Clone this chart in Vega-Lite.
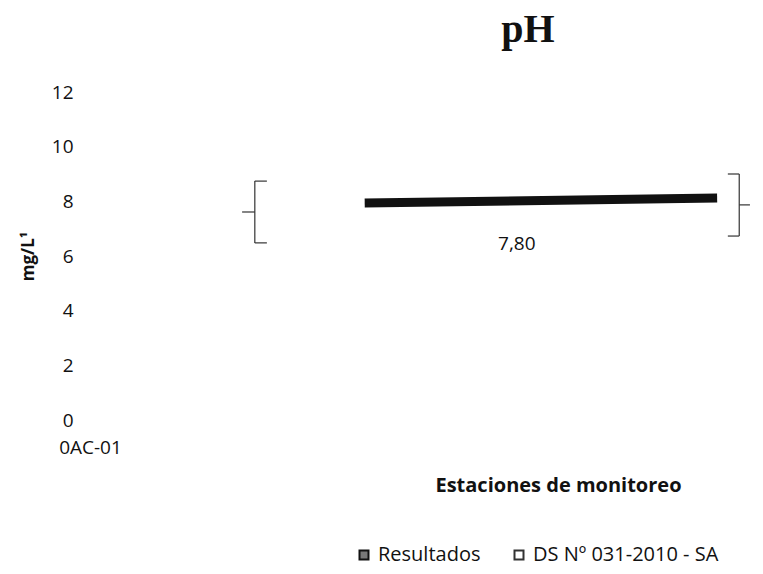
{
  "$schema": "https://vega.github.io/schema/vega-lite/v6.json",
  "autosize": "none",
  "width": 670,
  "height": 328,
  "padding": {"left": 90, "top": 92, "right": 3, "bottom": 154},
  "background": "white",
  "title": {
    "text": "pH",
    "font": "Liberation Serif",
    "fontSize": 40,
    "fontWeight": "bold",
    "color": "#111",
    "anchor": "middle",
    "dx": 103,
    "offset": 33
  },
  "config": {
    "view": {"stroke": null},
    "font": "Open Sans"
  },
  "datasets": {
    "segmentos": [
      {"serie": "Resultados", "x": 41.0, "x2": 93.6, "y": 7.94, "y2": 8.12},
      {"serie": "DS Nº 031-2010 - SA", "x": 24.6, "x2": 24.6, "y": 6.48, "y2": 8.74},
      {"serie": "DS Nº 031-2010 - SA", "x": 24.6, "x2": 26.4, "y": 8.74, "y2": 8.74},
      {"serie": "DS Nº 031-2010 - SA", "x": 24.6, "x2": 26.4, "y": 6.48, "y2": 6.48},
      {"serie": "DS Nº 031-2010 - SA", "x": 22.7, "x2": 24.6, "y": 7.61, "y2": 7.61},
      {"serie": "DS Nº 031-2010 - SA", "x": 96.9, "x2": 96.9, "y": 6.73, "y2": 9.0},
      {"serie": "DS Nº 031-2010 - SA", "x": 95.2, "x2": 96.9, "y": 9.0, "y2": 9.0},
      {"serie": "DS Nº 031-2010 - SA", "x": 95.2, "x2": 96.9, "y": 6.73, "y2": 6.73},
      {"serie": "DS Nº 031-2010 - SA", "x": 96.9, "x2": 98.5, "y": 7.87, "y2": 7.87}
    ],
    "etiquetas": [
      {"x": 63.7, "y": 6.44, "texto": "7,80"}
    ]
  },
  "layer": [
    {
      "data": {"name": "segmentos"},
      "transform": [{"filter": "datum.serie === 'DS Nº 031-2010 - SA'"}],
      "mark": {"type": "rule", "strokeWidth": 1.2},
      "encoding": {
        "x": {
          "field": "x", "type": "quantitative",
          "scale": {"domain": [0, 100], "nice": false},
          "axis": {
            "values": [0],
            "labelExpr": "'0AC-01'",
            "labelAlign": "center",
            "labelFontSize": 19,
            "labelColor": "#111",
            "labelPadding": 18,
            "ticks": false,
            "domain": false,
            "grid": false,
            "title": "Estaciones de monitoreo",
            "titleFontSize": 20,
            "titleFontWeight": "bold",
            "titleColor": "#111",
            "titleX": 468,
            "titleY": 65,
            "titleBaseline": "middle"
          }
        },
        "x2": {"field": "x2"},
        "y": {
          "field": "y", "type": "quantitative",
          "scale": {"domain": [0, 12], "nice": false},
          "axis": {
            "values": [0, 2, 4, 6, 8, 10, 12],
            "labelFontSize": 19,
            "labelColor": "#111",
            "labelPadding": 17,
            "ticks": false,
            "domain": false,
            "grid": false,
            "title": "mg/L¹",
            "titleFontSize": 17,
            "titleFontWeight": "bold",
            "titleColor": "#111",
            "titlePadding": 14
          }
        },
        "y2": {"field": "y2"},
        "stroke": {
          "field": "serie", "type": "nominal",
          "scale": {"domain": ["Resultados", "DS Nº 031-2010 - SA"], "range": ["#111111", "#333333"]},
          "legend": {
            "orient": "none",
            "direction": "horizontal",
            "legendX": 264,
            "legendY": 453,
            "title": null,
            "symbolType": "square",
            "symbolSize": 81,
            "symbolStrokeWidth": 2,
            "labelFontSize": 20,
            "labelLimit": 400,
            "labelColor": "#111",
            "labelOffset": 4,
            "columnPadding": 28,
            "encode": {
              "symbols": {
                "update": {
                  "fill": [
                    {"test": "datum.value === 'Resultados'", "value": "#777777"},
                    {"value": "#ffffff"}
                  ],
                  "stroke": [
                    {"test": "datum.value === 'Resultados'", "value": "#444444"},
                    {"value": "#111111"}
                  ],
                  "strokeWidth": {"value": 2}
                }
              }
            }
          }
        }
      }
    },
    {
      "data": {"name": "segmentos"},
      "transform": [{"filter": "datum.serie === 'Resultados'"}],
      "mark": {"type": "rule", "strokeWidth": 9, "strokeCap": "butt"},
      "encoding": {
        "x": {"field": "x", "type": "quantitative"},
        "x2": {"field": "x2"},
        "y": {"field": "y", "type": "quantitative"},
        "y2": {"field": "y2"},
        "stroke": {"field": "serie", "type": "nominal"}
      }
    },
    {
      "data": {"name": "etiquetas"},
      "mark": {"type": "text", "fontSize": 19, "color": "#111", "baseline": "middle", "align": "center"},
      "encoding": {
        "x": {"field": "x", "type": "quantitative"},
        "y": {"field": "y", "type": "quantitative"},
        "text": {"field": "texto"}
      }
    }
  ]
}
